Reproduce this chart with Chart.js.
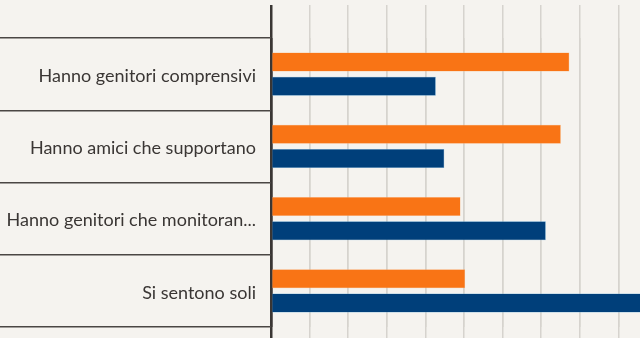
<!DOCTYPE html>
<html>
<head>
<meta charset="utf-8">
<script src="https://cdn.jsdelivr.net/npm/chart.js@4"></script>
<style>
  html, body { margin: 0; padding: 0; background: #f5f3ef; }
  #wrap { width: 640px; height: 338px; }
</style>
</head>
<body>
<div id="wrap"><canvas id="grafica"></canvas></div>
<script>
// Categorie e valori (scala in unità da 10)
const categorie = [
  "Hanno genitori comprensivi",
  "Hanno amici che supportano",
  "Hanno genitori che monitoran...",
  "Si sentono soli"
];
const serieArancio = [77.3, 75.1, 49.1, 50.3];
const serieBlu = [42.7, 44.9, 71.2, 100];
const passoGriglia = 10;
const massimoAsse = 95.6;

const coloreArancio = "#f97415";
const coloreBlu = "#003f7a";

// Linea verticale dello zero più scura delle altre
const coloreGriglia = ctx => ctx.tick && ctx.tick.value === 0 ? "#3a3634" : "#d6d3ce";
const spessoreGriglia = ctx => ctx.tick && ctx.tick.value === 0 ? 2.5 : 1.5;

const opzioniAsseX = (posizione, lunghezza) => ({
  type: "linear",
  position: posizione,
  min: 0,
  max: massimoAsse,
  border: { display: false },
  grid: {
    color: coloreGriglia,
    lineWidth: spessoreGriglia,
    tickColor: coloreGriglia,
    tickWidth: spessoreGriglia,
    tickLength: lunghezza
  },
  ticks: { display: false, stepSize: passoGriglia, includeBounds: false }
});

new Chart(document.getElementById("grafica"), {
  type: "bar",
  data: {
    labels: categorie,
    datasets: [
      {
        data: serieArancio,
        backgroundColor: coloreArancio,
        borderColor: "#fbb27a",
        borderWidth: 0.5,
        categoryPercentage: 0.667,
        barPercentage: 0.79
      },
      {
        data: serieBlu,
        backgroundColor: coloreBlu,
        borderColor: "#5fa6d6",
        borderWidth: 0.5,
        categoryPercentage: 0.667,
        barPercentage: 0.79
      }
    ]
  },
  options: {
    indexAxis: "y",
    responsive: true,
    maintainAspectRatio: false,
    animation: false,
    layout: { padding: { top: 5, right: 0, bottom: 0, left: 0 } },
    plugins: {
      legend: { display: false },
      tooltip: { enabled: false }
    },
    scales: {
      x: opzioniAsseX("top", 33),
      x2: opzioniAsseX("bottom", 11),
      y: {
        type: "category",
        border: { display: false },
        grid: {
          offset: true,
          drawOnChartArea: false,
          color: "#4a4644",
          lineWidth: 1.5,
          tickLength: 271
        },
        ticks: {
          padding: -256,
          labelOffset: 2,
          color: "#3a3634",
          font: { family: "Lato", size: 18 }
        },
        afterFit: scala => { scala.width = 271; }
      }
    }
  }
});
</script>
</body>
</html>
